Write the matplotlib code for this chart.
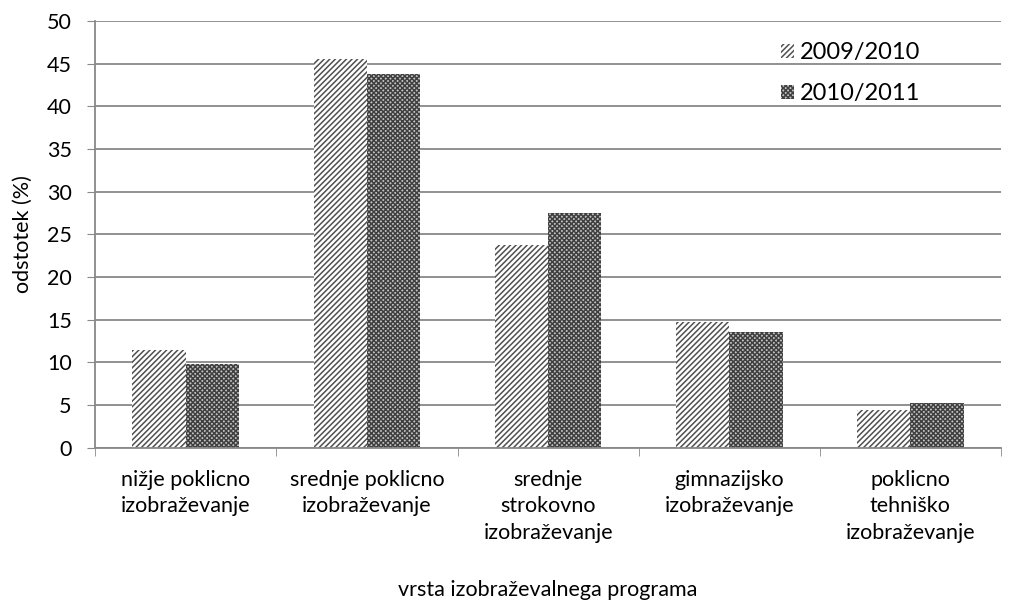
import numpy as np
import matplotlib.pyplot as plt

plt.rcParams['font.family'] = ['Lato', 'DejaVu Sans']
plt.rcParams['hatch.linewidth'] = 1.1

categories = ["nižje poklicno\nizobraževanje", "srednje poklicno\nizobraževanje",
              "srednje\nstrokovno\nizobraževanje", "gimnazijsko\nizobraževanje",
              "poklicno\ntehniško\nizobraževanje"]
v2009 = [11.4, 45.5, 23.8, 14.7, 4.4]
v2010 = [9.8, 43.8, 27.5, 13.6, 5.2]
series_names = ["2009/2010", "2010/2011"]

fig = plt.figure(figsize=(10.14, 6.01), dpi=100)
ax = fig.add_axes([0.094, 0.255, 0.893, 0.71])

x = np.arange(len(categories))
w = 0.295
ax.bar(x - w/2, v2009, w, color='white', edgecolor='#505050', hatch='//////', linewidth=0, label=series_names[0])
ax.bar(x + w/2, v2010, w, color='#c4c4c4', edgecolor='#404040', hatch='xxxxxxx', linewidth=0, label=series_names[1])

fs = 15.5
ax.set_ylim(0, 50)
ax.set_yticks(range(0, 51, 5))
ax.set_xlim(-0.5, len(categories) - 0.5)
ax.set_xticks(x)
ax.set_xticklabels(categories, fontsize=fs, linespacing=1.4)
ax.set_xticks(np.arange(-0.5, len(categories)), minor=True)
ax.tick_params(axis='x', which='major', length=0, pad=16)
ax.tick_params(axis='x', which='minor', length=6, color='#888888')
ax.tick_params(axis='y', labelsize=fs, length=6, pad=11, color='#888888')
ax.yaxis.grid(True, color='#888888', linewidth=1.3)
ax.set_axisbelow(True)
for s in ['top', 'right']:
    ax.spines[s].set_visible(False)
for s in ['left', 'bottom']:
    ax.spines[s].set_color('#888888')
    ax.spines[s].set_linewidth(1.3)

ax.set_ylabel("odstotek (%)", fontsize=fs, labelpad=10)
ax.set_xlabel("vrsta izobraževalnega programa", fontsize=fs, labelpad=27)

ax.legend(loc='upper right', bbox_to_anchor=(0.935, 1.0), frameon=False, fontsize=17,
          handlelength=0.55, handleheight=0.55, handletextpad=0.25, labelspacing=0.85)

fig.savefig("out.png", dpi=100)
